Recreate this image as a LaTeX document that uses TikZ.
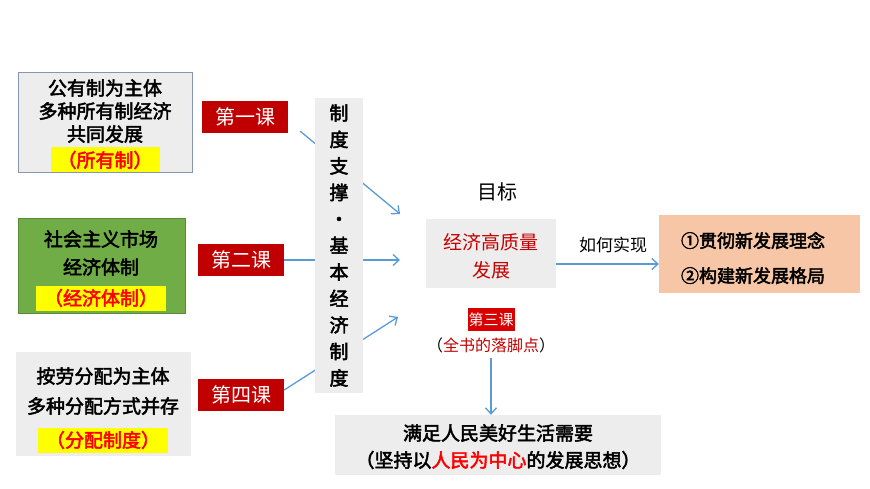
\documentclass[tikz,border=0pt]{standalone}
\usepackage{fontspec}
\setmainfont{Noto Sans CJK SC}
\newfontfamily\cjkb{Noto Sans CJK SC}[FakeBold=2.5]
\usetikzlibrary{arrows.meta}
\definecolor{gbox}{HTML}{EDEDED}
\definecolor{lred}{HTML}{C00000}
\definecolor{arr}{HTML}{5B9BD5}
\definecolor{grn}{HTML}{70AD47}
\definecolor{org}{HTML}{F6C6A6}
\definecolor{ylw}{HTML}{FFFF00}
\definecolor{bord}{HTML}{8496B0}
\tikzset{
  box/.style={inner sep=0pt, fill=gbox},
  btxt/.style={font=\cjkb\fontsize{19}{22}\selectfont, inner sep=0pt},
  hl/.style={fill=ylw, text=red, font=\cjkb\fontsize{19}{22}\selectfont, inner sep=0pt, minimum height=25pt},
  lesson/.style={fill=lred, text=white, font=\fontsize{20}{22}\selectfont, minimum width=86pt, minimum height=32pt, inner sep=0pt},
  conn/.style={draw=arr, line width=1.3pt, -{Straight Barb[length=6pt,width=11pt]}}
}
\begin{document}
\begin{tikzpicture}[x=1pt,y=-1pt]
\useasboundingbox[fill=white] (0,0) rectangle (870,489);
\coordinate (t1) at (400,214);
\coordinate (t2) at (400,260);
\coordinate (t3) at (398,317);
% left boxes
\fill[gbox, draw=bord, line width=1pt] (18,73) rectangle (192,173);
\node[btxt] (a1) at (105,88) {公有制为主体};
\node[btxt] (a2) at (105,111) {多种所有制经济};
\node[btxt] (a3) at (105,134) {共同发展};
\node[hl, minimum width=109pt] (a4) at (105,160) {（所有制）};
\fill[grn, draw=grn!80!black] (18,218) rectangle (185,313);
\node[btxt] (b1) at (101,239) {社会主义市场};
\node[btxt] (b2) at (101,267) {经济体制};
\node[hl, minimum width=130pt] (b3) at (101,298) {（经济体制）};
\fill[gbox] (16,352) rectangle (191,456);
\node[btxt] (c1) at (103,376) {按劳分配为主体};
\node[btxt] (c2) at (103,406) {多种分配方式并存};
\node[hl, minimum width=130pt] (c3) at (103,440) {（分配制度）};
% lessons
\node[lesson] (l1) at (245,117) {第一课};
\node[lesson] (l2) at (241,260) {第二课};
\node[lesson] (l4) at (241,395) {第四课};
\draw[conn] (l1.south east) ++(12,-2) -- (t1);
\draw[conn] (l2.east) -- (t2);
\draw[conn] (l4.east) ++(0,-5) -- (t3);
% vertical box
\node[box, minimum width=48pt, minimum height=295pt] (v) at (339,245.5) {};
\node[font=\cjkb\fontsize{19}{26.5}\selectfont, align=center, inner sep=0pt] (vt) at (339,245.5)
 {制\\度\\支\\撑\\·\\基\\本\\经\\济\\制\\度};
% goal
\node[font=\fontsize{20}{22}\selectfont] (goal) at (497,192) {目标};
\node[box, minimum width=130pt, minimum height=69pt] (g) at (491,253.5) {};
\node[text=lred!90!red, font=\fontsize{19}{28}\selectfont, align=center, inner sep=0pt] (gt) at (491,256) {经济高质量\\发展};
\node[font=\fontsize{17}{19}\selectfont] (how) at (613,245) {如何实现};
\node[fill=org, minimum width=201pt, minimum height=78pt, inner sep=0pt] (o) at (759.5,254) {};
\node[font=\cjkb\fontsize{18}{35}\selectfont, align=left, inner sep=0pt] (ot) at (753,258) {①贯彻新发展理念\\②构建新发展格局};
\draw[conn] (g.east |- 0,264) -- (o.west |- 0,264);
% third lesson
\node[fill=red!85!black, text=white, font=\fontsize{15}{16}\selectfont, inner sep=1pt, minimum height=23pt] (l3) at (491,319.5) {第三课};
\node[font=\fontsize{16}{18}\selectfont, inner sep=0pt] (l3b) at (491,345) {（\textcolor{lred}{全书的落脚点}）};
% bottom
\node[box, minimum width=326pt, minimum height=60pt] (bot) at (498,445) {};
\node[btxt] (bt1) at (498,433) {满足人民美好生活需要};
\node[btxt] (bt2) at (498,460) {（坚持以\textcolor{red}{人民为中心}的发展思想）};
\draw[conn] (l3b.south) ++(0,5) -- (bot.north -| l3b.south);
\end{tikzpicture}
\end{document}
